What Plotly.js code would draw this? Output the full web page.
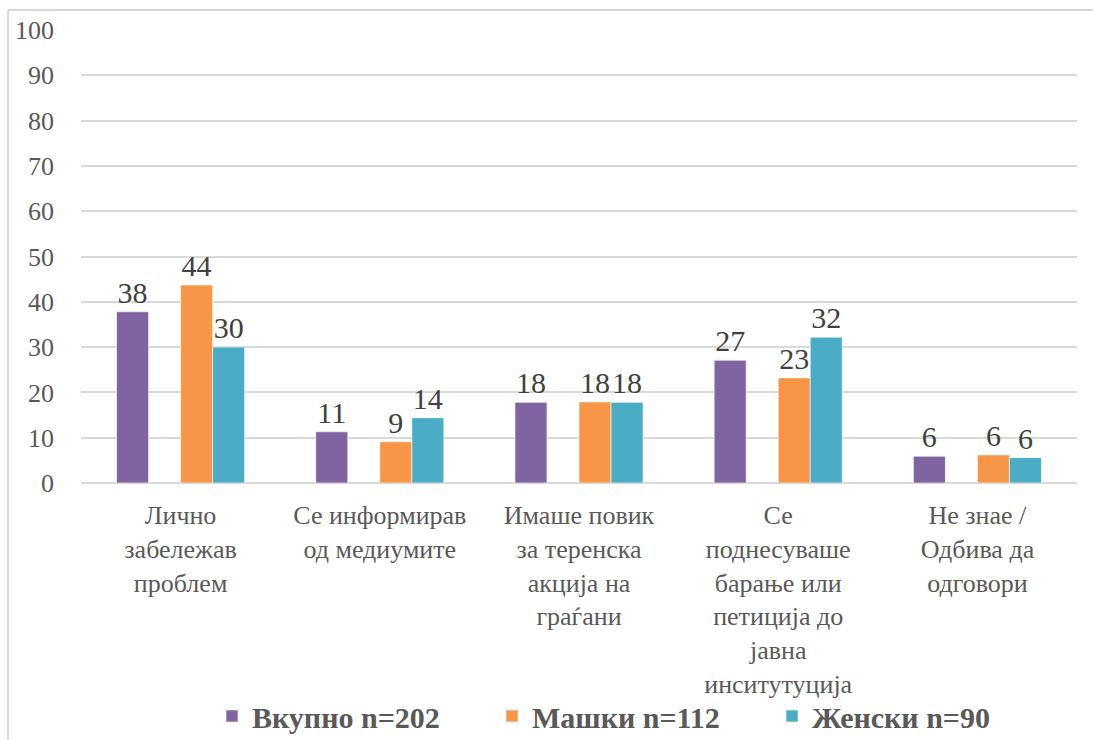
<!DOCTYPE html>
<html><head><meta charset="utf-8">
<script src="https://cdn.plot.ly/plotly-3.0.1.min.js"></script>
<style>html,body{margin:0;padding:0;background:#fff}#chart{width:1093px;height:740px}
#chart text{font-family:"Liberation Serif",serif !important}</style>
</head><body><div id="chart"></div>
<script>
const categories = ["Лично<br>забележав<br>проблем", "Се информирав<br>од медиумите", "Имаше повик<br>за теренска<br>акција на<br>граѓани", "Се<br>поднесуваше<br>барање или<br>петиција до<br>јавна<br>инситутуција", "Не знае /<br>Одбива да<br>одговори"];
const seriesNames = ["Вкупно n=202", "Машки n=112", "Женски n=90"];
const vkupno = [37.8, 11.3, 17.8, 27.1, 5.9];
const mashki = [43.7, 9.1, 17.9, 23.2, 6.2];
const zhenski = [30.0, 14.4, 17.8, 32.2, 5.6];
const colors = ["#8064A2", "#F79646", "#4BACC6"];

const FAM = 'Liberation Serif';
const labelFont = {family: FAM, size: 30, color: "#404040"};
function barTrace(name, vals, color) {
  return {type: "bar", name: name, x: categories, y: vals,
    marker: {color: color, line: {color: "rgba(255,255,255,0.6)", width: 1}},
    texttemplate: "%{y:.0f}", textposition: "outside", textfont: labelFont,
    constraintext: "none", cliponaxis: false, hoverinfo: "x+y"};
}
const traces = [
  barTrace(seriesNames[0], vkupno, colors[0]),
  {type: "bar", name: "", x: categories, y: categories.map(() => null), showlegend: false, hoverinfo: "skip"},
  barTrace(seriesNames[1], mashki, colors[1]),
  barTrace(seriesNames[2], zhenski, colors[2])
];
const L = 81, R = 1077, T = 30, B = 483;
const px = v => (v - L) / (R - L), py = v => (B - v) / (B - T);
const frame = {color: "#d9d9d9", width: 2};
const layout = {
  width: 1093, height: 740,
  margin: {l: L, r: 1093 - R, t: T, b: 740 - B, autoexpand: false},
  paper_bgcolor: "#fff", plot_bgcolor: "#fff",
  barmode: "group", bargap: 0.357, bargroupgap: 0,
  font: {family: FAM, color: "#595959"},
  xaxis: {tickfont: {family: FAM, size: 26, color: "#595959"}, showline: false, ticks: "", fixedrange: true,
    automargin: false, ticklabelstandoff: 14},
  yaxis: {range: [0, 100], dtick: 10, tickfont: {family: FAM, size: 26, color: "#595959"}, gridcolor: "#d9d9d9", gridwidth: 2,
    zeroline: true, zerolinecolor: "#d9d9d9", zerolinewidth: 2, showline: false, ticklabelstandoff: 26, automargin: false},
  showlegend: true,
  legend: {orientation: "h", x: px(212), xanchor: "left", y: py(716), yanchor: "middle", bgcolor: "rgba(0,0,0,0)",
    font: {size: 30, color: "#595959", family: FAM, weight: "bold"},
    entrywidth: 235, entrywidthmode: "pixels", traceorder: "normal"},
  shapes: [
    {type: "line", xref: "paper", yref: "paper", x0: px(8), x1: px(1093), y0: py(10), y1: py(10), line: frame, layer: "below"},
    {type: "line", xref: "paper", yref: "paper", x0: px(8), x1: px(8), y0: py(10), y1: py(740), line: frame, layer: "below"}
  ]
};
Plotly.newPlot("chart", traces, layout, {displayModeBar: false, staticPlot: true});
</script></body></html>
